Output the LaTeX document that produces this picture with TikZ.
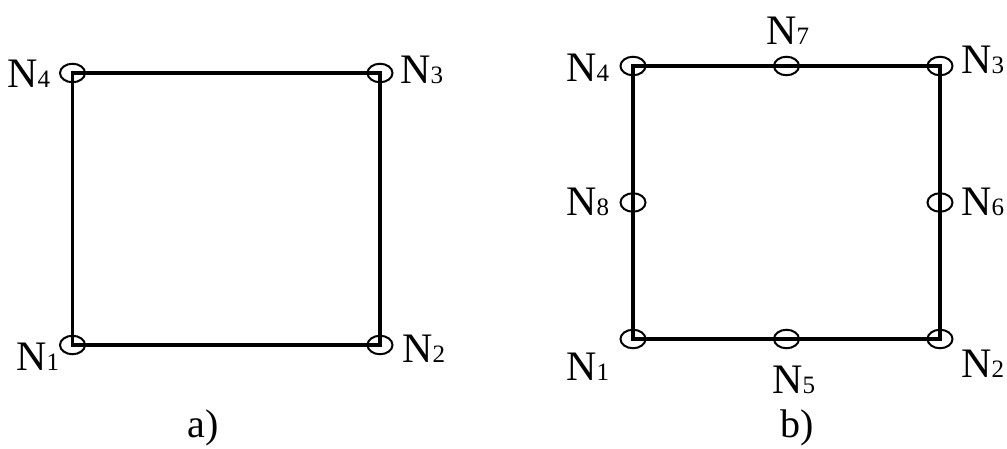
\documentclass[tikz,border=0pt]{standalone}
\usepackage{fontspec}
\setmainfont{Liberation Serif}
\usetikzlibrary{shapes.geometric}
\newcommand\nlab[1]{{\fontsize{42}{42}\selectfont N}{\fontsize{25}{25}\selectfont #1}}
\tikzset{
  nodept/.style={ellipse,draw,line width=2pt,minimum width=25pt,minimum height=18.5pt,inner sep=0pt},
  edge/.style={line width=3.4pt,line cap=rect},
  lbl/.style={anchor=base west,inner sep=0pt},
  captxt/.style={anchor=base,inner sep=0pt,font=\fontsize{40}{40}\selectfont}
}
\begin{document}
\begin{tikzpicture}[x=1pt,y=-1pt]
\useasboundingbox (0,0) rectangle (1007,449);
% a)
\coordinate (a1) at (72.5,345);
\coordinate (a2) at (380,345);
\coordinate (a3) at (380,73);
\coordinate (a4) at (72.5,73);
\draw[edge] (a1) -- (a2) -- (a3) -- (a4) -- cycle;
\foreach \p in {a1,a2,a3,a4} \node[nodept] at (\p) {};
\node[lbl] (la4) at (7,88) {\nlab{4}};
\node[lbl] (la1) at (16,370) {\nlab{1}};
\node[lbl] (la3) at (400,84) {\nlab{3}};
\node[lbl] (la2) at (402,362) {\nlab{2}};
\node[captxt] (capa) at (203,437) {a)};
% b)
\coordinate (b1) at (633,339);
\coordinate (b2) at (940,339);
\coordinate (b3) at (940,66);
\coordinate (b4) at (633,66);
\coordinate (b5) at (786.5,339);
\coordinate (b6) at (940,202.5);
\coordinate (b7) at (786.5,66);
\coordinate (b8) at (633,202.5);
\draw[edge] (b1) -- (b2) -- (b3) -- (b4) -- cycle;
\foreach \p in {b1,b2,b3,b4,b5,b6,b7,b8} \node[nodept] at (\p) {};
\node[lbl] (lb4) at (566,82) {\nlab{4}};
\node[lbl] (lb7) at (766,45) {\nlab{7}};
\node[lbl] (lb3) at (961,74) {\nlab{3}};
\node[lbl] (lb8) at (566,216) {\nlab{8}};
\node[lbl] (lb6) at (961,216) {\nlab{6}};
\node[lbl] (lb1) at (566,380) {\nlab{1}};
\node[lbl] (lb5) at (772,393) {\nlab{5}};
\node[lbl] (lb2) at (961,377) {\nlab{2}};
\node[captxt] (capb) at (797,437) {b)};
\end{tikzpicture}
\end{document}
